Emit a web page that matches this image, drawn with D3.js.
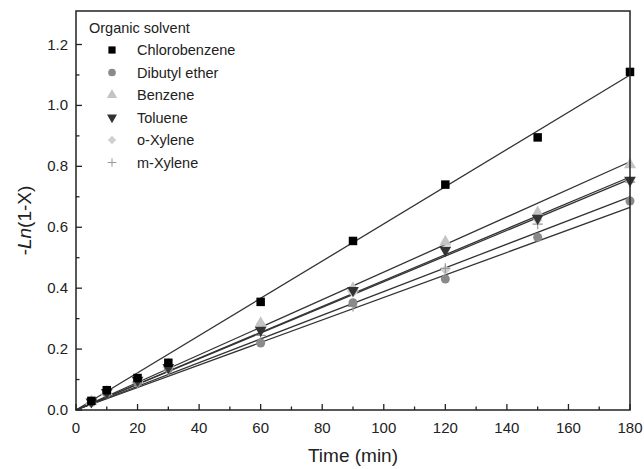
<!DOCTYPE html>
<html>
<head>
<meta charset="utf-8">
<script src="https://cdn.jsdelivr.net/npm/d3@7"></script>
<style>
  html, body { margin: 0; padding: 0; background: #fff; }
  svg { display: block; font-family: "Liberation Sans", Arial, sans-serif; }
</style>
</head>
<body>
<svg id="chart" width="644" height="469"></svg>
<script>
// Sampling times (min)
const times = [5, 10, 20, 30, 60, 90, 120, 150, 180];

// -ln(1-X) per solvent
const solvents = ["Chlorobenzene", "Dibutyl ether", "Benzene", "Toluene", "o-Xylene", "m-Xylene"];
const chlorobenzene = [0.03, 0.065, 0.105, 0.155, 0.355, 0.555, 0.74, 0.895, 1.11];
const dibutylEther  = [0.025, 0.055, 0.09, 0.135, 0.22, 0.352, 0.43, 0.567, 0.686];
const benzene       = [0.028, 0.06, 0.1, 0.15, 0.285, 0.40, 0.552, 0.648, 0.805];
const toluene       = [0.027, 0.058, 0.098, 0.14, 0.262, 0.393, 0.525, 0.63, 0.755];
const oXylene       = [0.026, 0.057, 0.095, 0.145, 0.282, 0.385, 0.46, 0.623, 0.75];
const mXylene       = [0.024, 0.052, 0.088, 0.13, 0.245, 0.34, 0.465, 0.61, 0.748];
const seriesValues  = [chlorobenzene, dibutylEther, benzene, toluene, oXylene, mXylene];

// Linear fits through the origin: value of each fit line at t = 180 min
const fitAt180 = [1.10, 0.665, 0.815, 0.765, 0.758, 0.70];

// Axis ticks
const xMajor = [0, 20, 40, 60, 80, 100, 120, 140, 160, 180];
const xMinor = [10, 30, 50, 70, 90, 110, 130, 150, 170];
const yMajor = [0.0, 0.2, 0.4, 0.6, 0.8, 1.0, 1.2];
const yMinor = [0.1, 0.3, 0.5, 0.7, 0.9, 1.1];

// Marker styles: square, circle, up-triangle, down-triangle, diamond, plus
const symbolTypes = [d3.symbolSquare, d3.symbolCircle, d3.symbolTriangle, d3.symbolTriangle, d3.symbolSquare, d3.symbolPlus];
const fills = ["#000000", "#8a8a8a", "#c4c4c4", "#333333", "#d0d0d0", "none"];
const strokes = ["none", "none", "none", "none", "none", "#9a9a9a"];
const symbolSizes = [72, 64, 64, 60, 48, 36];
const rotations = [0, 0, 0, 180, 45, 0];

const svg = d3.select("#chart");
const plotLeft = 76, plotRight = 630, plotTop = 11, plotBottom = 410;

const x = d3.scaleLinear().domain([0, 180]).range([plotLeft, plotRight]);
const y = d3.scaleLinear().domain([0, 1.31]).range([plotBottom, plotTop]);

const gAxes = svg.append("g");

// Inward-pointing ticks
const majorLen = 6, minorLen = 3.5;
gAxes.selectAll("line.xmaj").data(xMajor).join("line")
  .attr("x1", d => x(d)).attr("x2", d => x(d))
  .attr("y1", plotBottom).attr("y2", plotBottom - majorLen)
  .attr("stroke", "#222").attr("stroke-width", 1.3);
gAxes.selectAll("line.xmin").data(xMinor).join("line")
  .attr("x1", d => x(d)).attr("x2", d => x(d))
  .attr("y1", plotBottom).attr("y2", plotBottom - minorLen)
  .attr("stroke", "#222").attr("stroke-width", 1.3);
gAxes.selectAll("line.ymaj").data(yMajor).join("line")
  .attr("x1", plotLeft).attr("x2", plotLeft + majorLen)
  .attr("y1", d => y(d)).attr("y2", d => y(d))
  .attr("stroke", "#222").attr("stroke-width", 1.3);
gAxes.selectAll("line.ymin").data(yMinor).join("line")
  .attr("x1", plotLeft).attr("x2", plotLeft + minorLen)
  .attr("y1", d => y(d)).attr("y2", d => y(d))
  .attr("stroke", "#222").attr("stroke-width", 1.3);

// Tick labels
gAxes.selectAll("text.xl").data(xMajor).join("text")
  .attr("x", d => x(d)).attr("y", plotBottom + 23)
  .attr("text-anchor", "middle").attr("font-size", 15).attr("fill", "#222")
  .text(d => d);
gAxes.selectAll("text.yl").data(yMajor).join("text")
  .attr("x", plotLeft - 8).attr("y", d => y(d) + 5)
  .attr("text-anchor", "end").attr("font-size", 15).attr("fill", "#222")
  .text(d => d.toFixed(1));

// Axis titles
svg.append("text")
  .attr("x", (plotLeft + plotRight) / 2).attr("y", 462)
  .attr("text-anchor", "middle").attr("font-size", 19).attr("fill", "#222")
  .text("Time (min)");
const yTitle = svg.append("text")
  .attr("transform", `translate(31, ${(plotTop + plotBottom) / 2 + 10}) rotate(-90)`)
  .attr("text-anchor", "middle").attr("font-size", 19).attr("fill", "#222");
yTitle.append("tspan").text("-");
yTitle.append("tspan").attr("font-style", "italic").text("Ln");
yTitle.append("tspan").text("(1-X)");

// Fit lines
const gFit = svg.append("g");
solvents.forEach((s, i) => {
  gFit.append("line")
    .attr("x1", x(0)).attr("y1", y(0))
    .attr("x2", x(180)).attr("y2", y(fitAt180[i]))
    .attr("stroke", "#333").attr("stroke-width", 1.3);
});

function marker(sel, i) {
  sel.attr("d", d3.symbol().type(symbolTypes[i]).size(symbolSizes[i]))
    .attr("fill", fills[i])
    .attr("stroke", strokes[i])
    .attr("stroke-width", 1.2);
}

// Data markers (drawn back to front so dark symbols stay visible)
const gPts = svg.append("g");
const drawOrder = [4, 5, 2, 1, 3, 0];
drawOrder.forEach(i => {
  gPts.selectAll(null).data(times.map((t, k) => [t, seriesValues[i][k]])).join("path")
    .call(marker, i)
    .attr("transform", d => `translate(${x(d[0])},${y(d[1])}) rotate(${rotations[i]})`);
});

// Legend
const gLeg = svg.append("g");
gLeg.append("text").attr("x", 89).attr("y", 33)
  .attr("font-size", 14.5).attr("fill", "#222").text("Organic solvent");
solvents.forEach((s, i) => {
  const cy = 50 + i * 22.5;
  gLeg.append("path")
    .call(marker, i)
    .attr("transform", `translate(112,${cy}) rotate(${rotations[i]}) scale(0.85)`);
  gLeg.append("text").attr("x", 137).attr("y", cy + 5)
    .attr("font-size", 14.5).attr("fill", "#222").text(s);
});

// Frame
svg.append("rect")
  .attr("x", plotLeft).attr("y", plotTop)
  .attr("width", plotRight - plotLeft).attr("height", plotBottom - plotTop)
  .attr("fill", "none").attr("stroke", "#222").attr("stroke-width", 1.5);
</script>
</body>
</html>
